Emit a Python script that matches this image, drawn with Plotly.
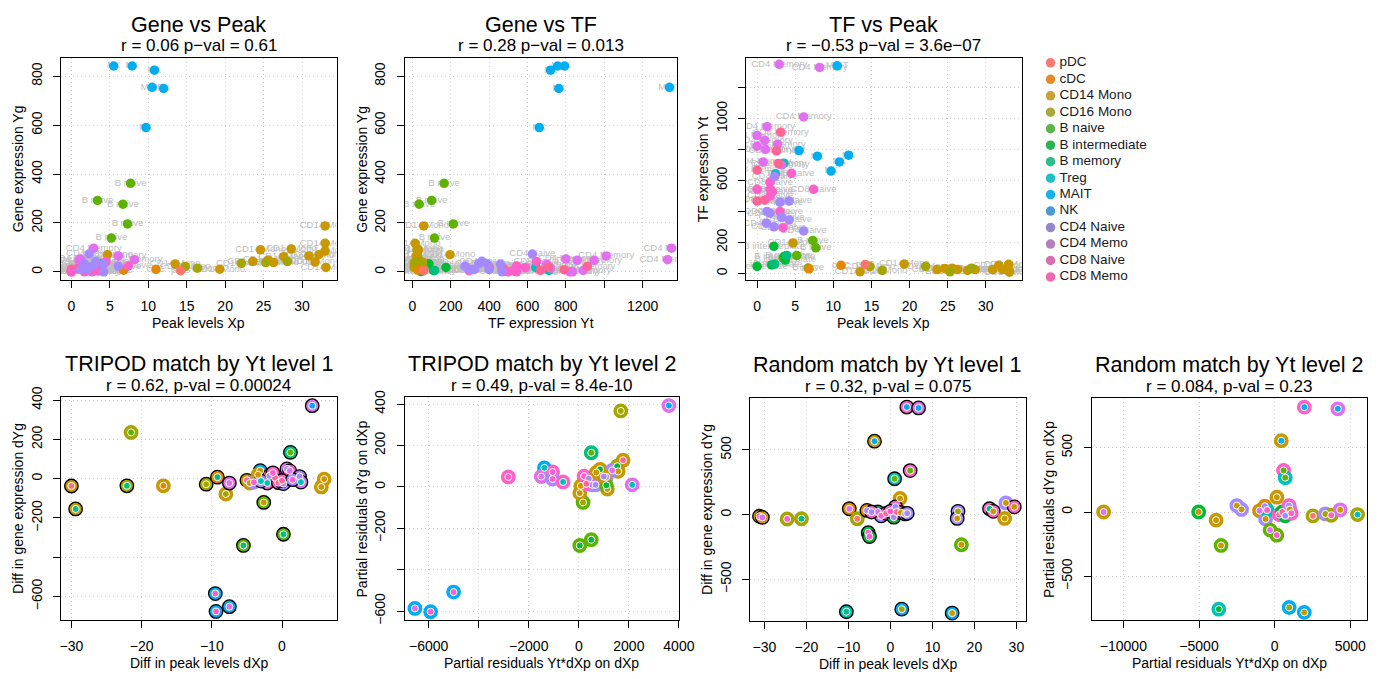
import plotly.graph_objects as go

W, H = 1395, 679
FONT = "Liberation Sans, Arial, Helvetica, sans-serif"

# ---------------- cell types ----------------
TYPE_CODES = ["pDC", "cDC", "CD14", "CD16", "Bn", "Bi", "Bm", "Treg",
              "MAIT", "NK", "CD4N", "CD4M", "CD8N", "CD8M"]
TYPE_NAMES = {"pDC": "pDC", "cDC": "cDC", "CD14": "CD14 Mono", "CD16": "CD16 Mono",
              "Bn": "B naive", "Bi": "B intermediate", "Bm": "B memory", "Treg": "Treg",
              "MAIT": "MAIT", "NK": "NK", "CD4N": "CD4 Naive", "CD4M": "CD4 Memory",
              "CD8N": "CD8 Naive", "CD8M": "CD8 Memory"}
POINT_COLORS = {"pDC": "#F8766D", "cDC": "#E58700", "CD14": "#C99800", "CD16": "#A3A500",
                "Bn": "#5DB300", "Bi": "#00BA38", "Bm": "#00BF7D", "Treg": "#00C0B8",
                "MAIT": "#00B0F6", "NK": "#00ADF2", "CD4N": "#A58AFF", "CD4M": "#E26EF0",
                "CD8N": "#FF5FC8", "CD8M": "#FF6496"}
LEGEND_LABELS = ["pDC", "cDC", "CD14 Mono", "CD16 Mono", "B naive", "B intermediate",
                 "B memory", "Treg", "MAIT", "NK", "CD4 Naive", "CD4 Memo",
                 "CD8 Naive", "CD8 Memo"]
LEGEND_COLORS = ["#F27C73", "#E88A2A", "#C9A23A", "#A5AA3B", "#5BB54A", "#2BB252",
                 "#2EBE8D", "#21BEC4", "#17B2EE", "#4D98D6", "#9486C8", "#B57EBC",
                 "#D670B0", "#EF68AB"]

# ---------------- metacell levels (top row) ----------------
cell_type = ["NK", "NK", "NK", "NK", "NK", "MAIT",
             "Bn", "Bn", "Bn", "Bn", "Bn",
             "Bi", "Bi", "Bi", "Bi", "Bi", "Bm", "Bm", "Treg", "Treg",
             "CD14", "CD14", "CD14", "CD14", "CD14", "CD14", "CD14", "CD14",
             "CD14", "CD14", "CD14", "CD14", "CD14", "CD14", "CD14", "CD14",
             "CD16", "CD16", "CD16", "CD16", "CD16", "cDC", "cDC", "pDC",
             "CD4M", "CD4M", "CD4M", "CD4M", "CD4M", "CD4M", "CD4M", "CD4M",
             "CD4M", "CD4M", "CD4M",
             "CD8M", "CD8M", "CD8M", "CD8M", "CD8M", "CD8M",
             "CD8N", "CD8N", "CD8N", "CD8N", "CD8N", "CD8N", "CD8N", "CD8N", "CD8N",
             "CD4N", "CD4N", "CD4N", "CD4N", "CD4N", "CD4N", "CD4N", "CD4N",
             "CD4N", "CD4N"]
peak_xp = [5.5, 7.9, 10.8, 12.0, 9.7, 10.5,
           7.7, 3.4, 6.7, 7.3, 5.2,
           0.0, 1.9, 2.2, 3.7, 3.6, 3.9, 2.3, 2.4, 3.5,
           4.7, 13.5, 19.3, 23.6, 24.6, 25.6, 26.3, 27.6,
           28.6, 30.9, 31.7, 32.2, 33.0, 33.0, 33.0, 33.1,
           14.8, 16.4, 22.1, 25.3, 28.1, 11.0, 6.8, 14.2,
           2.9, 8.2, 6.1, 1.3, 0.0, 1.0, 2.7, 0.0,
           1.1, 0.8, 3.2,
           3.1, 2.55, 2.8, 0.0, 0.0, 1.0,
           4.5, 1.7, 0.0, 1.7, 2.0, 7.4, 1.7, 3.0, 3.4,
           2.3, 3.0, 4.2, 1.3, 1.7, 3.2, 4.2, 1.2,
           2.2, 6.1]
tf_yt = [793, 757, 720, 763, 661, 1340,
         165, 100, 35, 213, 115,
         45, 55, 175, 86, 111, 116, 60, 643, 711,
         196, 10, 60, 25, 31, 34, 25, 19,
         25, 25, 53, 25, 59, 14, 25, 8,
         44, 19, 46, 10, 34, 52, 30, 58,
         1350, 1330, 1010, 947, 890, 859, 834, 821,
         800, 720, 700,
         912, 791, 709, 667, 467, 474,
         646, 589, 543, 543, 526, 543, 499, 400, 295,
         625, 459, 467, 400, 389, 362, 345, 324,
         301, 274]
gene_yg = [842, 842, 825, 750, 590, 755,
           362, 292, 277, 196, 138,
           1, 17, 18, 33, 5, 6, 17, 18, 6,
           70, 32, 11, 42, 90, 48, 38, 62,
           93, 65, 40, 70, 188, 117, 85, 18,
           22, 15, 35, 38, 42, 10, 7, 5,
           97, 50, 65, 47, 6, 47, 0, 0,
           53, 15, 31,
           23, 9, 20, 6, 11, 14,
           42, 17, 0, 23, 5, 24, 0, 20, 5,
           73, 31, 0, 10, 33, 43, 33, 10,
           10, 23]

# ---------------- matched-pair differences (bottom row) ----------------
# TRIPOD match by Yt, level 1
tri1_dx = [4.3, -21.5, 1.2, -30.0, -29.4, -22.1, -16.9, -10.8, -9.2, -8.0,
           -7.5, -5.0, -4.6, -4.0, -3.1, -3.4, -2.6, 0.2, -5.5, -9.5,
           -9.4, -7.5, -2.1, -1.8, -1.0, -0.5, 0.2, 0.7, 1.1, 2.5,
           2.7, -1.3, 0.0, 1.5, -3.0, 6.0, 5.6]
tri1_dy = [372, 236, 134, -37, -154, -36, -36, -28, 8, -78,
           -22, -8, -22, -18, 41, 20, -121, -283, -340, -585,
           -676, -652, -22, 15, 5, -20, -25, 50, 40, 11,
           -17, 30, -10, -5, -12, -2, -42]
tri1_outer = ["CD4M", "CD16", "Bm", "CD14", "CD14", "CD16", "CD14", "CD16", "cDC", "CD14",
              "CD4M", "CD14", "CD14", "CD4N", "MAIT", "CD14", "Bn", "Bn", "Bn", "NK",
              "NK", "NK", "CD8N", "CD8N", "CD4M", "CD8N", "CD4N", "CD4M", "CD8N", "CD4N",
              "CD4M", "CD8N", "CD8N", "CD4N", "CD4N", "CD14", "CD14"]
tri1_inner = ["NK", "Bn", "Bn", "pDC", "Bm", "Bm", "cDC", "CD16", "Bm", "CD16",
              "CD4M", "CD8M", "CD14", "CD8N", "CD14", "CD14", "CD14", "Bm", "Bm", "CD8N",
              "CD8N", "CD4M", "Treg", "CD4N", "CD8M", "CD8M", "CD4N", "CD4N", "CD4M", "CD4N",
              "Treg", "CD8N", "CD8M", "CD8N", "Treg", "CD14", "CD14"]
tri1_edge = [1, 0, 1, 1, 1, 1, 0, 1, 1, 0,
             1, 1, 0, 0, 1, 0, 1, 1, 1, 1,
             1, 1, 1, 1, 1, 1, 1, 1, 1, 1,
             1, 1, 1, 1, 1, 0, 0]

# TRIPOD match by Yt, level 2
tri2_dx = [3600, 1678, 498, -1376, -1048, -1500, -1048, -629, -2817, 2135,
           -6550, -5922, -5005, 39, 498, 170, 39, 1769, 1533, 1572,
           850, 1336, 1100, 1140, 210, 540, 670, 80, 1100, 400,
           700, 1000, 300]
tri2_dy = [393, 367, 165, 92, 72, 50, 38, 24, 48, 10,
           -587, -603, -508, -283, -255, -75, -30, 129, 100, 75,
           85, 80, 48, -10, 52, 10, 10, 5, 8, 40,
           70, 50, 15]
tri2_outer = ["CD4M", "CD16", "Bm", "NK", "CD8N", "CD4M", "CD4N", "CD8N", "CD8N", "CD4M",
              "NK", "NK", "NK", "Bn", "Bn", "Bn", "CD14", "CD14", "CD16", "CD14",
              "CD14", "CD4N", "CD4N", "CD14", "CD8N", "CD4N", "CD4N", "CD14", "Bn", "CD4M",
              "CD14", "CD14", "CD8N"]
tri2_inner = ["NK", "CD16", "Bn", "Treg", "CD8N", "CD4M", "CD8N", "Treg", "CD8N", "Treg",
              "CD4M", "CD8N", "CD8N", "Bi", "Bi", "CD16", "CD14", "CD8M", "Bi", "CD14",
              "Bi", "CD4M", "CD4N", "CD14", "CD8N", "CD4N", "CD4N", "CD14", "Bi", "CD4N",
              "CD14", "CD4N", "CD8M"]
tri2_edge = [0] * len(tri2_dx)

# Random match by Yt, level 1
rnd1_dx = [3.9, 6.7, -3.8, 4.7, 1.0, 2.3, -31.2, -30.5, -24.6, -21.2,
           -9.8, -7.9, -5.6, -5.3, -5.0, -3.0, -2.2, -1.0, 0.8, 1.2,
           1.5, 2.5, 3.5, 4.0, 0.0, -4.5, 16.1, 15.9, 16.9, 23.6,
           24.5, 27.2, 27.5, 29.5, -10.5, 2.7, 14.7]
rnd1_dy = [831, 824, 567, 340, 277, 125, -13, -22, -34, -32,
           45, -32, 32, -140, -170, 20, -10, 10, -20, 60,
           20, 15, 5, 10, 25, 20, 25, -30, -233, 45,
           25, -30, 90, 60, -751, -731, -761]
rnd1_outer = ["CD8N", "CD4M", "CD14", "CD8N", "Treg", "CD14", "CD14", "CD14", "CD16", "CD16",
              "cDC", "CD16", "cDC", "Bi", "Bi", "Bm", "CD4N", "CD8N", "Bi", "CD8N",
              "Bi", "CD8N", "CD4N", "CD4N", "CD8N", "CD8N", "CD4N", "CD4N", "Bn", "CD8N",
              "CD8N", "CD14", "CD4N", "CD8N", "Treg", "NK", "NK"]
rnd1_inner = ["NK", "NK", "NK", "Bn", "Bn", "CD14", "CD8N", "CD4M", "CD8N", "Bm",
              "CD4M", "pDC", "CD4N", "CD8N", "CD8N", "CD4M", "CD8N", "CD8M", "CD4N", "CD4N",
              "CD8M", "CD14", "CD4N", "CD4N", "CD8N", "CD4N", "CD16", "CD14", "CD14", "Bm",
              "CD14", "CD14", "CD14", "CD14", "Bm", "CD16", "CD14"]
rnd1_edge = [1, 1, 1, 1, 1, 0, 1, 1, 0, 0,
             1, 0, 1, 1, 1, 1, 1, 1, 1, 1,
             1, 1, 1, 1, 1, 1, 1, 1, 0, 1,
             1, 0, 0, 1, 1, 1, 1]

# Random match by Yt, level 2
rnd2_dx = [1957, 4175, 437, 590, 700, 146, -11305, -5022, -3870, -3544,
           -2500, -2190, -1000, -650, -600, -500, -300, 140, 300, 500,
           700, 950, 1000, 1100, 2530, 3350, 3740, 4330, 5480, -3692,
           958, 1957]
rnd2_dy = [815, 802, 554, 323, 267, 115, 0, 0, -63, -260,
           50, 20, 10, 45, -55, 15, -140, -180, -20, 0,
           -30, 50, 20, -10, -30, -15, -25, 17, -20, -755,
           -742, -780]
rnd2_outer = ["CD8N", "CD4M", "CD14", "CD8N", "Treg", "CD14", "CD14", "Bi", "CD14", "Bn",
              "CD4N", "CD4N", "CD14", "cDC", "CD4N", "Treg", "Bn", "Bn", "CD8N", "Bi",
              "Bi", "CD8N", "CD4N", "CD8N", "CD16", "CD4N", "CD16", "CD4M", "CD16", "Treg",
              "NK", "NK"]
rnd2_inner = ["NK", "NK", "NK", "Bn", "Bn", "CD14", "CD4M", "CD14", "CD14", "CD14",
              "CD14", "CD14", "CD4M", "CD4N", "CD14", "CD8N", "CD4M", "CD8N", "CD8M", "CD8M",
              "CD4N", "CD4N", "CD14", "CD8N", "pDC", "CD16", "CD8N", "CD14", "Treg", "Bi",
              "CD16", "CD14"]
rnd2_edge = [0] * len(rnd2_dx)

# ---------------- panel layout (pixel boxes) ----------------
def xdom(left, right):
    return [left / W, right / W]


def ydom(top, bottom):
    return [1 - bottom / H, 1 - top / H]


MINUS = "\u2212"


def fmt(v):
    return str(v).replace("-", MINUS)


panels = [
    dict(box=(60, 339, 48, 275), xr=[-1.32, 34.5], yr=[-33, 875],
         xt=[0, 5, 10, 15, 20, 25, 30], yt=[0, 200, 400, 600, 800],
         title="Gene vs Peak", sub="r = 0.06 p\u2212val = 0.61",
         xlab="Peak levels Xp", ylab="Gene expression Yg"),
    dict(box=(408, 684, 48, 275), xr=[-40, 1380], yr=[-33, 875],
         xt=[0, 200, 400, 600, 800, 1000, 1200], xtt=["0", "200", "400", "600", "800", "", "1200"],
         yt=[0, 200, 400, 600, 800],
         title="Gene vs TF", sub="r = 0.28 p\u2212val = 0.013",
         xlab="TF expression Yt", ylab="Gene expression Yg"),
    dict(box=(754, 1033, 48, 275), xr=[-1.42, 34.7], yr=[-42, 1391],
         xt=[0, 5, 10, 15, 20, 25, 30], yt=[0, 200, 400, 600, 800, 1000, 1200],
         ytt=["0", "200", "", "600", "", "1000", ""],
         title="TF vs Peak", sub="r = \u22120.53 p\u2212val = 3.6e\u221207",
         xlab="Peak levels Xp", ylab="TF expression Yt"),
    dict(box=(60, 339, 395, 623), xr=[-31.45, 7.78], yr=[-721, 415],
         xt=[-30, -20, -10, 0], yt=[-600, -400, -200, 0, 200, 400],
         ytt=[fmt(-600), "", fmt(-200), "0", "200", "400"],
         title="TRIPOD match by Yt level 1", sub="r = 0.62, p-val = 0.00024",
         xlab="Diff in peak levels dXp", ylab="Diff in gene expression dYg"),
    dict(box=(408, 686, 395, 623), xr=[-6957, 4010], yr=[-644, 433],
         xt=[-6000, -4000, -2000, 0, 2000, 4000],
         xtt=[fmt(-6000), "", fmt(-2000), "0", "2000", "4000"],
         yt=[-600, -400, -200, 0, 200, 400],
         ytt=[fmt(-600), "", fmt(-200), "0", "200", "400"],
         title="TRIPOD match by Yt level 2", sub="r = 0.49, p-val = 8.4e-10",
         xlab="Partial residuals Yt*dXp on dXp", ylab="Partial residuals dYg on dXp"),
    dict(box=(758, 1037, 396, 624), xr=[-33.4, 32.2], yr=[-824, 899],
         xt=[-30, -20, -10, 0, 10, 20, 30], yt=[-500, 0, 500],
         title="Random match by Yt level 1", sub="r = 0.32, p-val = 0.075",
         xlab="Diff in peak levels dXp", ylab="Diff in gene expression dYg"),
    dict(box=(1104, 1383, 396, 623), xr=[-12088, 6112], yr=[-841, 884],
         xt=[-10000, -5000, 0, 5000], yt=[-500, 0, 500],
         title="Random match by Yt level 2", sub="r = 0.084, p-val = 0.23",
         xlab="Partial residuals Yt*dXp on dXp", ylab="Partial residuals dYg on dXp"),
]

fig = go.Figure()
layout = dict(width=W, height=H, margin=dict(l=0, r=0, t=0, b=0),
              paper_bgcolor="white", plot_bgcolor="white", showlegend=False,
              font=dict(family=FONT, color="black"), hovermode=False)
annotations = []

for i, p in enumerate(panels, start=1):
    left, right, top, bottom = p["box"]
    sfx = "" if i == 1 else str(i)
    common = dict(showline=True, linecolor="black", linewidth=1, mirror=True,
                  ticks="outside", ticklen=7, tickcolor="black", tickwidth=1,
                  showgrid=True, gridcolor="#CFCFCF", griddash="1px,3px", gridwidth=1,
                  zeroline=False, tickfont=dict(size=14, family=FONT, color="black"),
                  fixedrange=True)
    layout["xaxis" + sfx] = dict(common, domain=xdom(left, right), range=p["xr"],
                                 anchor="y" + sfx, tickmode="array", tickvals=p["xt"],
                                 ticktext=p.get("xtt", [fmt(v) for v in p["xt"]]),
                                 ticklabelstandoff=6)
    layout["yaxis" + sfx] = dict(common, domain=ydom(top, bottom), range=p["yr"],
                                 anchor="x" + sfx, tickmode="array", tickvals=p["yt"],
                                 ticktext=p.get("ytt", [fmt(v) for v in p["yt"]]),
                                 tickangle=-90, ticklabelstandoff=6)
    xref, yref = "x%s domain" % sfx, "y%s domain" % sfx
    annotations += [
        dict(text=p["title"], xref=xref, yref=yref, x=0.5, y=1, yanchor="middle",
             yshift=33, showarrow=False, font=dict(size=21.5, family=FONT, color="black")),
        dict(text=p["sub"], xref=xref, yref=yref, x=0.5, y=1, yanchor="middle",
             yshift=12, showarrow=False, font=dict(size=17, family=FONT, color="black")),
        dict(text=p["xlab"], xref=xref, yref=yref, x=0.5, y=0, yanchor="middle",
             yshift=-43, showarrow=False, font=dict(size=14, family=FONT, color="black")),
        dict(text=p["ylab"], xref=xref, yref=yref, x=0, y=0.5, xanchor="center",
             xshift=-43, textangle=-90, showarrow=False,
             font=dict(size=14, family=FONT, color="black")),
    ]

# ---------------- top row: labelled metacells ----------------
labels = [TYPE_NAMES[t] for t in cell_type]
colors = [POINT_COLORS[t] for t in cell_type]
top_pairs = [(peak_xp, gene_yg), (tf_yt, gene_yg), (peak_xp, tf_yt)]
for i, (xs, ys) in enumerate(top_pairs, start=1):
    sfx = "" if i == 1 else str(i)
    fig.add_trace(go.Scatter(x=xs, y=ys, mode="text", text=labels,
                             textfont=dict(size=9.5, family=FONT, color="#BEBEBE"),
                             xaxis="x" + sfx, yaxis="y" + sfx, cliponaxis=True))
    fig.add_trace(go.Scatter(x=xs, y=ys, mode="markers",
                             marker=dict(size=9.5, color=colors, line=dict(width=0)),
                             xaxis="x" + sfx, yaxis="y" + sfx))

# ---------------- bottom row: matched pairs ----------------
bottom_sets = [(tri1_dx, tri1_dy, tri1_outer, tri1_inner, tri1_edge),
               (tri2_dx, tri2_dy, tri2_outer, tri2_inner, tri2_edge),
               (rnd1_dx, rnd1_dy, rnd1_outer, rnd1_inner, rnd1_edge),
               (rnd2_dx, rnd2_dy, rnd2_outer, rnd2_inner, rnd2_edge)]
for k, (dx, dy, outer, inner, edge) in enumerate(bottom_sets, start=4):
    sfx = str(k)
    oc = [POINT_COLORS[t] for t in outer]
    lc = ["black" if e else POINT_COLORS[t] for t, e in zip(outer, edge)]
    fig.add_trace(go.Scatter(x=dx, y=dy, mode="markers",
                             marker=dict(size=13.5, color=oc, line=dict(width=1.3, color=lc)),
                             xaxis="x" + sfx, yaxis="y" + sfx))
    fig.add_trace(go.Scatter(x=dx, y=dy, mode="markers",
                             marker=dict(size=7, color=[POINT_COLORS[t] for t in inner],
                                         line=dict(width=1, color="white")),
                             xaxis="x" + sfx, yaxis="y" + sfx))

# ---------------- legend drawn on its own small axis ----------------
leg_y = list(range(len(LEGEND_LABELS)))
layout["xaxis8"] = dict(domain=xdom(1052, 1185), range=[-1, 12], visible=False,
                        anchor="y8", fixedrange=True)
layout["yaxis8"] = dict(domain=ydom(44.6, 280.4), range=[13.5, -0.5], visible=False,
                        anchor="x8", fixedrange=True)
fig.add_trace(go.Scatter(x=[0] * len(leg_y), y=leg_y, mode="markers",
                         marker=dict(size=9.5, color=LEGEND_COLORS),
                         xaxis="x8", yaxis="y8", cliponaxis=False))
fig.add_trace(go.Scatter(x=[0.9] * len(leg_y), y=leg_y, mode="text",
                         text=LEGEND_LABELS, textposition="middle right",
                         textfont=dict(size=13.5, family=FONT, color="#1A1A1A"),
                         xaxis="x8", yaxis="y8", cliponaxis=False))

layout["annotations"] = annotations
fig.update_layout(**layout)
fig.write_html("out.html")
